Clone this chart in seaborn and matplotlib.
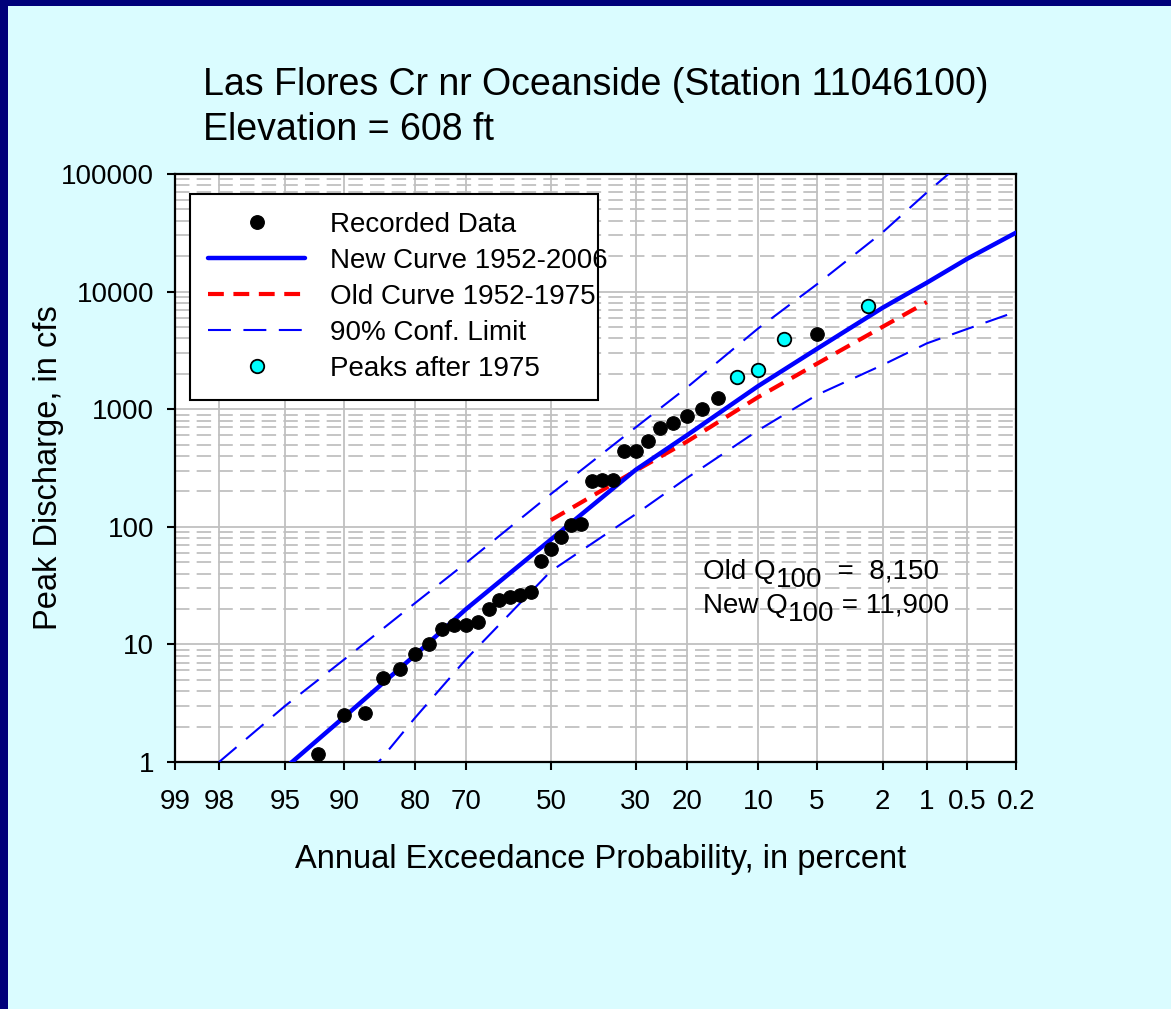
import matplotlib
matplotlib.use("Agg")
import matplotlib.pyplot as plt
import numpy as np
import pandas as pd
import seaborn as sns
from matplotlib.lines import Line2D
from matplotlib.patches import Rectangle
from matplotlib.ticker import FixedLocator, NullFormatter
from statistics import NormalDist

# ---------------- data ----------------
recorded_prob = [92.5, 90, 87.5, 85, 82.5, 80, 77.5, 75, 72.5, 70, 67.5, 65,
                 62.5, 60, 57.5, 55, 52.5, 50, 47.5, 45, 42.5, 40, 37.5, 35,
                 32.5, 30, 27.5, 25, 22.5, 20, 17.5, 15, 5]
recorded_cfs = [1.16, 2.53, 2.63, 5.2, 6.2, 8.3, 10.0, 13.4, 14.5, 14.5, 15.6, 19.9,
                23.9, 25.3, 26.1, 28.1, 51, 65, 82, 104, 106, 247, 250, 250,
                441, 441, 540, 692, 768, 880, 998, 1238, 4357]

after1975_prob = [12.5, 10, 7.5, 2.5]
after1975_cfs = [1878, 2154, 3954, 7590]

new_curve_prob = [95, 90, 80, 70, 50, 30, 20, 10, 5, 2, 1, 0.5, 0.2]
new_curve_cfs = [0.89, 2.4, 8.1, 20.0, 78, 305, 600, 1570, 3250, 7300, 11900, 19000, 31700]

old_curve_prob = [50, 30, 20, 10, 5, 2, 1]
old_curve_cfs = [114, 300, 530, 1265, 2430, 5030, 8150]

upper_prob = [98, 95, 90, 80, 70, 50, 30, 20, 10, 5, 2, 1, 0.5]
upper_cfs = [1.0, 3.0, 7.4, 22.4, 49.4, 190, 700, 1530, 4850, 11500, 32000, 69600, 137000]

lower_prob = [90, 85, 80, 70, 50, 30, 20, 10, 5, 2, 1, 0.5, 0.2]
lower_cfs = [0.44, 1.12, 2.37, 7.5, 42, 128, 260, 660, 1320, 2380, 3630, 4810, 6740]

xtick_prob = [99, 98, 95, 90, 80, 70, 50, 30, 20, 10, 5, 2, 1, 0.5, 0.2]
xtick_labels = ["99", "98", "95", "90", "80", "70", "50", "30", "20", "10",
                "5", "2", "1", "0.5", "0.2"]
ytick_vals = [1, 10, 100, 1000, 10000, 100000]
ytick_labels = ["1", "10", "100", "1000", "10000", "100000"]

legend_labels = ["Recorded Data", "New Curve 1952-2006", "Old Curve 1952-1975",
                 "90% Conf. Limit", "Peaks after 1975"]
title_lines = ["Las Flores Cr nr Oceanside (Station 11046100)", "Elevation = 608 ft"]

# ---------------- probability scale ----------------
_nd = NormalDist()


def to_z(probs):
    return [_nd.inv_cdf(1.0 - p / 100.0) for p in probs]


def frame(probs, vals):
    return pd.DataFrame({"z": to_z(probs), "cfs": vals})


# ---------------- style ----------------
sns.set_theme(style="white")
plt.rcParams["font.family"] = ["Liberation Sans", "DejaVu Sans"]
plt.rcParams["text.color"] = "black"

W, H = 1171, 1009
BG = "#DAFCFF"
NAVY = "#00007A"
BLUE = "#0000FF"
RED = "#FF0000"
CYAN = "#00FFFF"
GRID = "#C0C0C0"

fig = plt.figure(figsize=(W / 100, H / 100), dpi=100, facecolor=BG)
ax = fig.add_axes([175 / W, 1 - 762 / H, 841 / W, 588 / H])
ax.set_facecolor("white")

# navy border strips (top and left)
fig.add_artist(Rectangle((0, 0), 8 / W, 1, transform=fig.transFigure,
                         facecolor=NAVY, edgecolor="none", zorder=0))
fig.add_artist(Rectangle((0, 1 - 6 / H), 1, 6 / H, transform=fig.transFigure,
                         facecolor=NAVY, edgecolor="none", zorder=0))

# ---------------- data layers ----------------
sns.lineplot(data=frame(upper_prob, upper_cfs), x="z", y="cfs", sort=False,
             estimator=None, color=BLUE, linewidth=1.5, linestyle=(0, (11, 6)),
             ax=ax, legend=False, zorder=3)
sns.lineplot(data=frame(lower_prob, lower_cfs), x="z", y="cfs", sort=False,
             estimator=None, color=BLUE, linewidth=1.5, linestyle=(0, (11, 6)),
             ax=ax, legend=False, zorder=3)
sns.lineplot(data=frame(old_curve_prob, old_curve_cfs), x="z", y="cfs", sort=False,
             estimator=None, color=RED, linewidth=3.0, linestyle=(0, (3.8, 2.3)),
             ax=ax, legend=False, zorder=4)
sns.lineplot(data=frame(new_curve_prob, new_curve_cfs), x="z", y="cfs", sort=False,
             estimator=None, color=BLUE, linewidth=3.2, ax=ax, legend=False, zorder=4)
sns.scatterplot(data=frame(recorded_prob, recorded_cfs), x="z", y="cfs",
                color="black", edgecolor="black", linewidth=0.8, s=95,
                ax=ax, legend=False, zorder=6)
sns.scatterplot(data=frame(after1975_prob, after1975_cfs), x="z", y="cfs",
                color=CYAN, edgecolor="black", linewidth=1.3, s=95,
                ax=ax, legend=False, zorder=6)

# ---------------- axes ----------------
ax.set_yscale("log")
ax.set_ylim(1, 100000)
ax.set_yticks(ytick_vals, labels=ytick_labels)
ax.yaxis.set_minor_locator(FixedLocator([m * 10 ** e for e in range(0, 5) for m in range(2, 10)]))
ax.yaxis.set_minor_formatter(NullFormatter())
xz = to_z(xtick_prob)
ax.set_xticks(xz, labels=xtick_labels)
ax.set_xlim(xz[0], to_z([0.2])[0])

ax.set_axisbelow(True)
ax.grid(which="major", axis="both", color=GRID, linewidth=1.3, linestyle="-")
ax.grid(which="minor", axis="y", color=GRID, linewidth=1.3, linestyle=(0, (8, 4)))

ax.tick_params(which="major", direction="out", length=6, width=1.5, color="black",
               labelsize=20, labelcolor="black", bottom=True, left=True)
ax.tick_params(axis="y", which="major", pad=9)
ax.tick_params(axis="x", which="major", pad=13.5)
ax.tick_params(which="minor", length=0)
for s in ax.spines.values():
    s.set_color("black")
    s.set_linewidth(1.6)
    s.set_visible(True)

ax.set_xlabel("Annual Exceedance Probability, in percent", fontsize=23.5, color="black")
ax.set_ylabel("Peak Discharge, in cfs", fontsize=23.5, color="black")
ax.xaxis.set_label_coords(0.506, -0.139)
ax.yaxis.set_label_coords(-0.132, 0.501)

# ---------------- title ----------------
fig.text(203 / W, 1 - 95 / H, title_lines[0], fontsize=27, va="baseline", ha="left", color="black")
fig.text(203 / W, 1 - 140 / H, title_lines[1], fontsize=27, va="baseline", ha="left", color="black")

# ---------------- legend ----------------
handles = [
    Line2D([], [], ls="none", marker="o", ms=9.7, mfc="black", mec="black"),
    Line2D([], [], color=BLUE, lw=3.2),
    Line2D([], [], color=RED, lw=3.0, ls=(0, (3.8, 2.3))),
    Line2D([], [], color=BLUE, lw=1.5, ls=(0, (11, 6))),
    Line2D([], [], ls="none", marker="o", ms=9.7, mfc=CYAN, mec="black", mew=1.3),
]
leg = ax.legend(handles, legend_labels, loc="upper left",
                bbox_to_anchor=(15 / 841, 1 - (398 - 174) / 588, 408 / 841, 204 / 588),
                mode="expand", borderaxespad=0, fontsize=20, handlelength=3.5,
                handletextpad=0.9, labelspacing=0.36, borderpad=0.65,
                fancybox=False, shadow=False, framealpha=1, facecolor="white",
                edgecolor="black", labelcolor="black")
leg.get_frame().set_linewidth(1.5)
leg.set_zorder(10)

# ---------------- Q100 annotations ----------------
def q_line(y_axes, head, tail):
    t1 = ax.text((703 - 175) / 841, y_axes, head, transform=ax.transAxes,
                 fontsize=20, va="baseline", ha="left", color="black", zorder=11)
    t2 = ax.annotate("100", xy=(1, 0), xycoords=t1, xytext=(0, -1.5),
                     textcoords="offset points", fontsize=20, va="baseline",
                     ha="left", color="black", zorder=11)
    ax.annotate(tail, xy=(1, 0), xycoords=(t2, t1), fontsize=20, va="bottom",
                ha="left", color="black", zorder=11)


q_line(1 - (579 - 174) / 588, "Old Q", "  =  8,150")
q_line(1 - (613 - 174) / 588, "New Q", " = 11,900")

fig.savefig("out.png", dpi=100, facecolor=BG)
